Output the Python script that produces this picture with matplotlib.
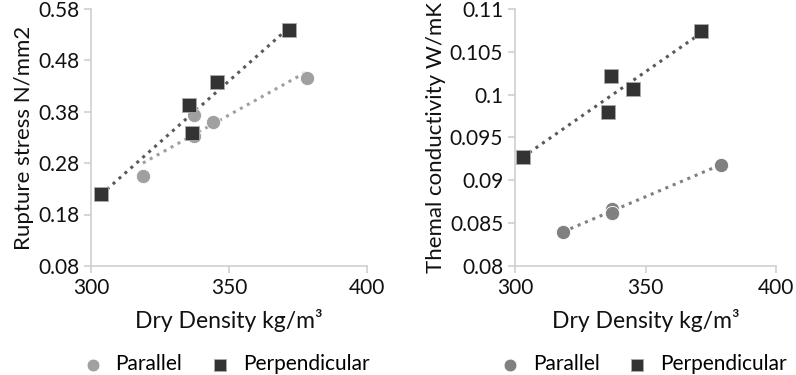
import numpy as np
import matplotlib.pyplot as plt

# Rupture stress panel
rs_par_x = [318.8, 337.5, 337.5, 344.2, 378.4]
rs_par_y = [0.254, 0.374, 0.333, 0.360, 0.446]
rs_perp_x = [303.6, 335.4, 336.6, 345.5, 371.7]
rs_perp_y = [0.219, 0.393, 0.338, 0.437, 0.540]

# Thermal conductivity panel
tc_par_x = [318.4, 337.0, 337.0, 379.0]
tc_par_y = [0.0839, 0.0867, 0.0862, 0.0918]
tc_perp_x = [302.9, 335.5, 336.6, 345.2, 371.4]
tc_perp_y = [0.0927, 0.0980, 0.1022, 0.1007, 0.1074]

plt.rcParams['font.family'] = ['Lato', 'DejaVu Sans']

fig = plt.figure(figsize=(7.96, 3.75), dpi=100)
ax1 = fig.add_axes([0.1143, 0.291, 0.3467, 0.685])
ax2 = fig.add_axes([0.647, 0.291, 0.328, 0.685])


def trend(ax, x, y, color):
    k, b = np.polyfit(x, y, 1)
    xs = np.array([min(x), max(x)])
    ax.plot(xs, k * xs + b, linestyle=(0, (1, 1.6)), color=color, lw=2.2, zorder=2)


def panel(ax, px, py, qx, qy, pcol, ylab, yticks, ylabels, lx):
    trend(ax, px, py, pcol)
    trend(ax, qx, qy, '#595959')
    ax.scatter(px, py, s=105, color=pcol, marker='o', edgecolors='white',
               linewidths=0.6, zorder=3, label='Parallel')
    ax.scatter(qx, qy, s=95, color='#333333', marker='s', edgecolors='#aaaaaa',
               linewidths=0.6, zorder=3, label='Perpendicular')
    ax.set_xlim(300, 400)
    ax.set_xticks([300, 350, 400])
    ax.set_ylim(yticks[0], yticks[-1])
    ax.set_yticks(yticks)
    ax.set_yticklabels(ylabels)
    for s in ['top', 'right']:
        ax.spines[s].set_visible(False)
    for s in ['left', 'bottom']:
        ax.spines[s].set_color('#d0d0d0')
        ax.spines[s].set_linewidth(1.2)
    ax.tick_params(colors='#d0d0d0', labelcolor='#111111', labelsize=15,
                   length=5, width=1.2)
    ax.set_xlabel('Dry Density kg/m³', fontsize=16.5, color='#111111', labelpad=8)
    ax.set_ylabel(ylab, fontsize=16, color='#111111', labelpad=3)
    ax.legend(loc='upper center', bbox_to_anchor=(lx, -0.27), ncol=2,
              frameon=False, fontsize=15, handletextpad=0.1, columnspacing=0.8,
              markerscale=0.9)


panel(ax1, rs_par_x, rs_par_y, rs_perp_x, rs_perp_y, '#a0a0a0',
      'Rupture stress N/mm2',
      [0.08, 0.18, 0.28, 0.38, 0.48, 0.58],
      ['0.08', '0.18', '0.28', '0.38', '0.48', '0.58'], 0.47)
panel(ax2, tc_par_x, tc_par_y, tc_perp_x, tc_perp_y, '#808080',
      'Themal conductivity W/mK',
      [0.08, 0.085, 0.09, 0.095, 0.1, 0.105, 0.11],
      ['0.08', '0.085', '0.09', '0.095', '0.1', '0.105', '0.11'], 0.47)

fig.savefig('out.png', dpi=100)
